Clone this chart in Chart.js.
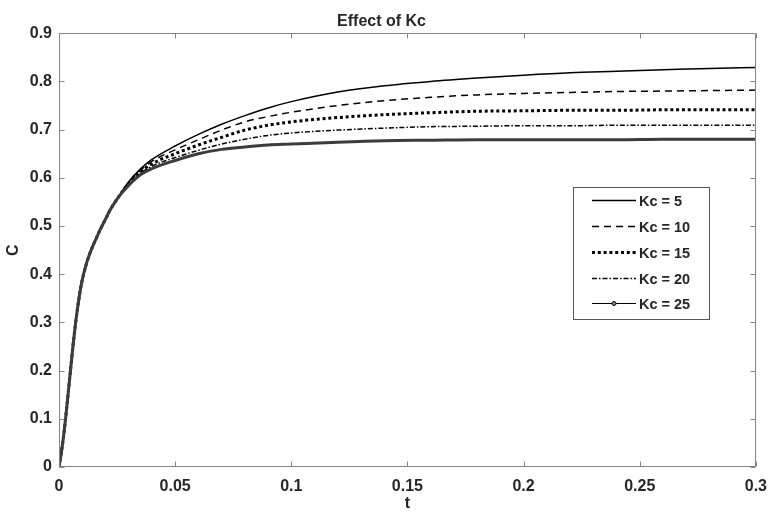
<!DOCTYPE html>
<html>
<head>
<meta charset="utf-8">
<script src="https://cdn.jsdelivr.net/npm/chart.js@4.4.1/dist/chart.umd.min.js"></script>
<style>
  html, body { margin: 0; padding: 0; background: #fff; }
  #wrap { width: 777px; height: 513px; }
</style>
</head>
<body>
<div id="wrap"><canvas id="chart" width="777" height="513"></canvas></div>
<script>
// --- DATA ---
const tValues = [0, 0.001, 0.002, 0.003, 0.004, 0.005, 0.006, 0.007, 0.008, 0.009, 0.010,
                 0.012, 0.014, 0.016, 0.018, 0.020, 0.022, 0.025,
                 0.03, 0.035, 0.04, 0.05, 0.06, 0.07, 0.08, 0.09, 0.10,
                 0.12, 0.14, 0.16, 0.18, 0.20, 0.22, 0.24, 0.26, 0.28, 0.30];

// the five curves are the same until about t = 0.025
const riseC = [0, 0.03, 0.065, 0.108, 0.155, 0.203, 0.25, 0.293, 0.33, 0.362, 0.388,
               0.425, 0.452, 0.474, 0.495, 0.514, 0.533, 0.556];

const kc5  = riseC.concat([0.592, 0.618, 0.638, 0.666, 0.690, 0.711, 0.729, 0.745, 0.758,
                           0.778, 0.791, 0.800, 0.807, 0.813, 0.818, 0.821, 0.824, 0.827, 0.829]);
const kc10 = riseC.concat([0.590, 0.615, 0.634, 0.658, 0.679, 0.699, 0.716, 0.727, 0.736,
                           0.750, 0.760, 0.767, 0.772, 0.775, 0.777, 0.779, 0.780, 0.781, 0.782]);
const kc15 = riseC.concat([0.588, 0.612, 0.629, 0.650, 0.668, 0.684, 0.699, 0.709, 0.716,
                           0.725, 0.731, 0.735, 0.738, 0.739, 0.740, 0.740, 0.741, 0.741, 0.741]);
const kc20 = riseC.concat([0.586, 0.609, 0.624, 0.642, 0.657, 0.670, 0.680, 0.688, 0.693,
                           0.699, 0.703, 0.706, 0.707, 0.708, 0.708, 0.709, 0.709, 0.709, 0.709]);
const kc25 = riseC.concat([0.584, 0.606, 0.619, 0.636, 0.650, 0.659, 0.664, 0.668, 0.670,
                           0.674, 0.677, 0.678, 0.679, 0.679, 0.679, 0.679, 0.680, 0.680, 0.680]);

const seriesNames = ['Kc = 5', 'Kc = 10', 'Kc = 15', 'Kc = 20', 'Kc = 25'];
const seriesValues = [kc5, kc10, kc15, kc20, kc25];

const xTicks = [0, 0.05, 0.1, 0.15, 0.2, 0.25, 0.3];
const xTickLabels = ['0', '0.05', '0.1', '0.15', '0.2', '0.25', '0.3'];
const yTicks = [0, 0.1, 0.2, 0.3, 0.4, 0.5, 0.6, 0.7, 0.8, 0.9];
const yTickLabels = ['0', '0.1', '0.2', '0.3', '0.4', '0.5', '0.6', '0.7', '0.8', '0.9'];

// --- LINE STYLES (MATLAB-ish) ---
const lineStyles = [
    { color: '#000', width: 1.5, dash: [] },
    { color: '#000', width: 1.5, dash: [7, 5] },
    { color: '#000', width: 3,   dash: [3, 2.8] },
    { color: '#000', width: 1.5, dash: [5, 2, 1.5, 2] },
    { color: '#3c3c3c', width: 3, dash: [], marker: true }
];

const FONT = '"Liberation Sans", Arial, Helvetica, sans-serif';
const TEXT = '#262626';
const AXIS = '#858585';

// frame + inward ticks on all four sides
const framePlugin = {
    id: 'frame',
    afterDatasetsDraw(chart) {
        const { ctx, chartArea: a, scales: { x, y } } = chart;
        const L = Math.round(a.left) + 0.5, R = Math.round(a.right) - 0.5;
        const T = Math.round(a.top) + 0.5, B = Math.round(a.bottom) - 0.5;
        const len = 5;
        ctx.save();
        ctx.strokeStyle = AXIS;
        ctx.lineWidth = 1;
        ctx.beginPath();
        ctx.rect(L, T, R - L, B - T);
        xTicks.forEach(v => {
            const px = Math.round(x.getPixelForValue(v)) + 0.5;
            ctx.moveTo(px, B); ctx.lineTo(px, B - len);
            ctx.moveTo(px, T); ctx.lineTo(px, T + len);
        });
        yTicks.forEach(v => {
            const py = Math.round(y.getPixelForValue(v)) + 0.5;
            ctx.moveTo(L, py); ctx.lineTo(L + len, py);
            ctx.moveTo(R, py); ctx.lineTo(R - len, py);
        });
        ctx.stroke();
        ctx.restore();
    }
};

// boxed legend in the lower right of the plot
const legendPlugin = {
    id: 'boxLegend',
    afterDraw(chart) {
        const { ctx, chartArea: a } = chart;
        const bx = a.left + 514, by = a.top + 154, bw = 136, bh = 132;
        ctx.save();
        ctx.fillStyle = '#fff';
        ctx.fillRect(bx, by, bw, bh);
        ctx.strokeStyle = '#555';
        ctx.lineWidth = 1;
        ctx.strokeRect(Math.round(bx) + 0.5, Math.round(by) + 0.5, bw, bh);

        ctx.font = 'bold 14.5px ' + FONT;
        ctx.textBaseline = 'middle';
        ctx.textAlign = 'left';
        seriesNames.forEach((name, i) => {
            const st = lineStyles[i];
            const ry = Math.round(by + 13 + i * 25.8) + 0.5;
            const x1 = bx + 19, x2 = bx + 63;
            ctx.strokeStyle = '#000';
            ctx.lineWidth = st.marker ? 1 : st.width;
            ctx.lineCap = 'butt';
            ctx.setLineDash(st.dash);
            ctx.beginPath();
            ctx.moveTo(x1, ry); ctx.lineTo(x2, ry);
            ctx.stroke();
            ctx.setLineDash([]);
            if (st.marker) {
                ctx.fillStyle = '#888';
                ctx.beginPath();
                ctx.arc((x1 + x2) / 2, ry, 2, 0, Math.PI * 2);
                ctx.fill();
                ctx.stroke();
            }
            ctx.fillStyle = TEXT;
            ctx.fillText(name, x2 + 3, ry + 1);
        });
        ctx.restore();
    }
};

new Chart(document.getElementById('chart'), {
    type: 'line',
    data: {
        datasets: seriesNames.map((name, i) => ({
            label: name,
            data: tValues.map((t, j) => ({ x: t, y: seriesValues[i][j] })),
            borderColor: lineStyles[i].color,
            borderWidth: lineStyles[i].width,
            borderDash: lineStyles[i].dash,
            borderCapStyle: 'butt',
            pointRadius: 0,
            fill: false,
            cubicInterpolationMode: 'monotone'
        })).reverse()
    },
    options: {
        responsive: false,
        animation: false,
        layout: { padding: { left: 0, right: 14, top: 0, bottom: 0 } },
        plugins: {
            legend: { display: false },
            tooltip: { enabled: false },
            title: {
                display: true,
                text: 'Effect of Kc',
                color: TEXT,
                font: { family: FONT, size: 16, weight: 'bold' },
                padding: { top: 12, bottom: 2 }
            }
        },
        scales: {
            x: {
                type: 'linear',
                min: 0, max: 0.3,
                afterBuildTicks: s => { s.ticks = xTicks.map(v => ({ value: v })); },
                afterFit: s => { s.height = 46; },
                grid: { display: false, drawTicks: false },
                border: { display: false },
                ticks: {
                    padding: 10,
                    color: TEXT,
                    font: { family: FONT, size: 16, weight: 'bold' },
                    maxRotation: 0,
                    callback: (v, i) => xTickLabels[i]
                },
                title: {
                    display: true, text: 't', color: TEXT,
                    font: { family: FONT, size: 16, weight: 'bold' },
                    padding: { top: 0, bottom: 0 }
                }
            },
            y: {
                type: 'linear',
                min: 0, max: 0.9,
                afterBuildTicks: s => { s.ticks = yTicks.map(v => ({ value: v })); },
                afterFit: s => { s.width = 59; },
                grid: { display: false, drawTicks: false },
                border: { display: false },
                ticks: {
                    padding: 7,
                    color: TEXT,
                    font: { family: FONT, size: 16, weight: 'bold' },
                    callback: (v, i) => yTickLabels[i]
                },
                title: {
                    display: true, text: 'C', color: TEXT,
                    font: { family: FONT, size: 16, weight: 'bold' },
                    padding: { top: 4, bottom: 0 }
                }
            }
        }
    },
    plugins: [framePlugin, legendPlugin]
});
</script>
</body>
</html>
